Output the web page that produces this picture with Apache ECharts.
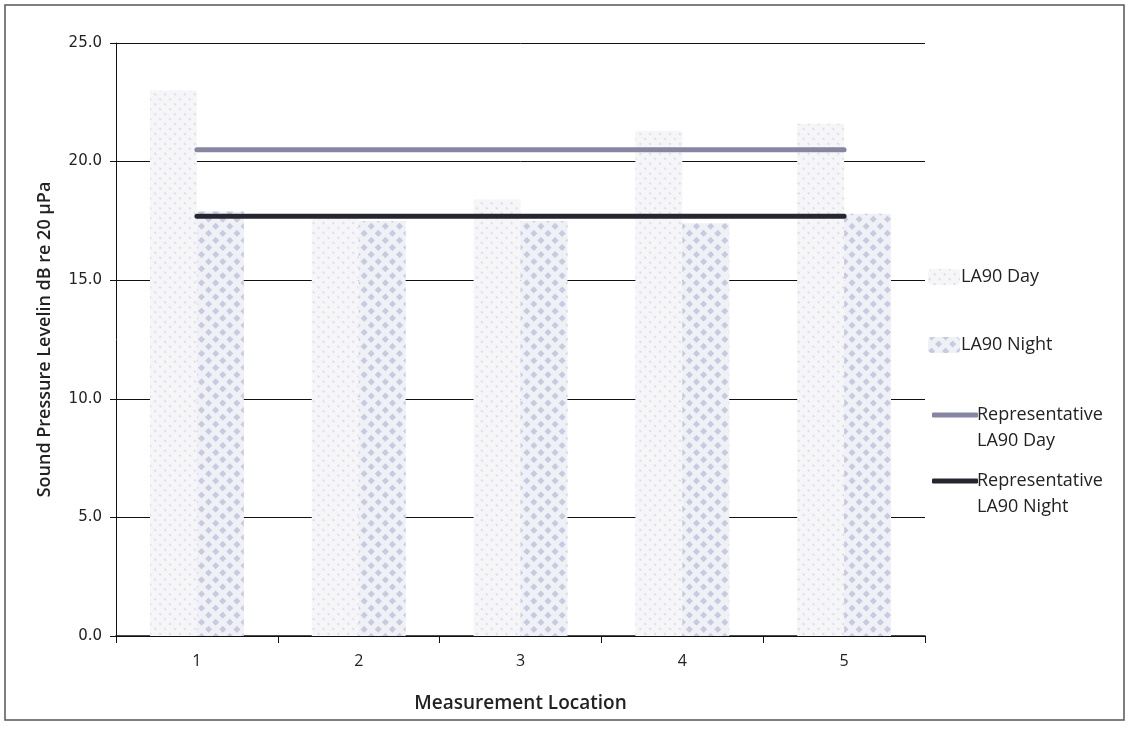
<!DOCTYPE html>
<html>
<head>
<meta charset="utf-8">
<script src="https://cdn.jsdelivr.net/npm/echarts@6/dist/echarts.min.js"></script>
<style>
  html, body { margin: 0; padding: 0; background: #fff; }
  #chart { width: 1129px; height: 729px; }
</style>
</head>
<body>
<div id="chart"></div>
<script>
// measurement locations along the x axis
const locations = ['1', '2', '3', '4', '5'];

// LA90 levels, dB re 20 µPa
const la90Day = [23.0, 17.6, 18.4, 21.3, 21.6];
const la90Night = [17.9, 17.5, 17.5, 17.4, 17.8];

// representative levels drawn as flat lines across locations
const repDay = [20.5, 20.5, 20.5, 20.5, 20.5];
const repNight = [17.7, 17.7, 17.7, 17.7, 17.7];

const yTicks = { min: 0, max: 25, interval: 5 };

const chart = echarts.init(document.getElementById('chart'));

const textFont = 'Open Sans';

const option = {
  animation: false,
  backgroundColor: '#fff',
  graphic: [{
    type: 'rect',
    shape: { x: 5, y: 5, width: 1119, height: 715 },
    style: { fill: 'none', stroke: '#555', lineWidth: 1.5 },
    silent: true
  }],
  grid: { left: 116, right: 204, top: 43, bottom: 93 },
  legend: [
    {
      data: ['LA90 Day'],
      orient: 'vertical',
      left: 923, top: 263,
      itemWidth: 32, itemHeight: 16, itemGap: 0,
      textStyle: { fontFamily: textFont, fontSize: 18, color: '#222', padding: [0, 0, 0, -4] }
    },
    {
      data: ['LA90 Night'],
      orient: 'vertical',
      left: 923, top: 331,
      itemWidth: 32, itemHeight: 16, itemGap: 0,
      textStyle: { fontFamily: textFont, fontSize: 18, color: '#222', padding: [0, 0, 0, -4] }
    },
    {
      data: ['Representative\nLA90 Day'],
      orient: 'vertical',
      left: 927, top: 371,
      icon: 'roundRect',
      itemWidth: 46, itemHeight: 5, itemGap: 0,
      // leading blank line puts the icon level with the first text line
      formatter: name => '\n' + name,
      textStyle: { fontFamily: textFont, fontSize: 18, lineHeight: 26, color: '#222', padding: [0, 0, 0, -6] }
    },
    {
      data: ['Representative\nLA90 Night'],
      orient: 'vertical',
      left: 927, top: 437,
      icon: 'roundRect',
      itemWidth: 46, itemHeight: 5, itemGap: 0,
      formatter: name => '\n' + name,
      textStyle: { fontFamily: textFont, fontSize: 18, lineHeight: 26, color: '#222', padding: [0, 0, 0, -6] }
    }
  ],
  xAxis: {
    type: 'category',
    data: locations,
    name: 'Measurement Location',
    nameLocation: 'middle',
    nameGap: 58,
    nameTextStyle: { fontFamily: textFont, fontSize: 19, fontWeight: 600, color: '#222' },
    axisLine: { lineStyle: { color: '#111', width: 1.5 } },
    axisTick: { show: true, length: 7, lineStyle: { color: '#111' } },
    axisLabel: { fontFamily: textFont, fontSize: 16, color: '#222', margin: 17 },
    splitLine: { show: false }
  },
  yAxis: {
    type: 'value',
    min: yTicks.min,
    max: yTicks.max,
    interval: yTicks.interval,
    name: 'Sound Pressure Levelin dB re 20 µPa',
    nameLocation: 'middle',
    nameGap: 62,
    nameTextStyle: { fontFamily: textFont, fontSize: 18, fontWeight: 600, color: '#222' },
    axisLine: { show: true, lineStyle: { color: '#111' } },
    axisTick: { show: true, length: 6, lineStyle: { color: '#111' } },
    axisLabel: {
      fontFamily: 'DejaVu Sans', fontSize: 15, color: '#222', margin: 14,
      formatter: v => v.toFixed(1)
    },
    splitLine: { show: true, lineStyle: { color: '#111', width: 1 } }
  },
  series: [
    {
      name: 'LA90 Day',
      type: 'bar',
      data: la90Day,
      barGap: '0%',
      barCategoryGap: '42%',
      itemStyle: {
        color: '#f6f6f9',
        decal: {
          symbol: 'rect',
          symbolSize: 0.7,
          color: 'rgba(175, 175, 200, 0.55)',
          dashArrayX: [[2, 5]],
          dashArrayY: [3, 4],
          rotation: -Math.PI / 4
        }
      }
    },
    {
      name: 'LA90 Night',
      type: 'bar',
      data: la90Night,
      itemStyle: {
        color: '#f0f1f6',
        decal: {
          symbol: 'rect',
          symbolSize: 1,
          color: 'rgba(160, 165, 200, 0.5)',
          dashArrayX: [[5, 5]],
          dashArrayY: [5, 5],
          rotation: -Math.PI / 4
        }
      }
    },
    {
      name: 'Representative\nLA90 Day',
      type: 'line',
      data: repDay,
      symbol: 'none',
      z: 5,
      itemStyle: { color: '#8686a2' },
      lineStyle: { color: '#8686a2', width: 5, cap: 'round' }
    },
    {
      name: 'Representative\nLA90 Night',
      type: 'line',
      data: repNight,
      symbol: 'none',
      z: 5,
      itemStyle: { color: '#262630' },
      lineStyle: { color: '#262630', width: 5, cap: 'round' }
    }
  ]
};

chart.setOption(option);
</script>
</body>
</html>
